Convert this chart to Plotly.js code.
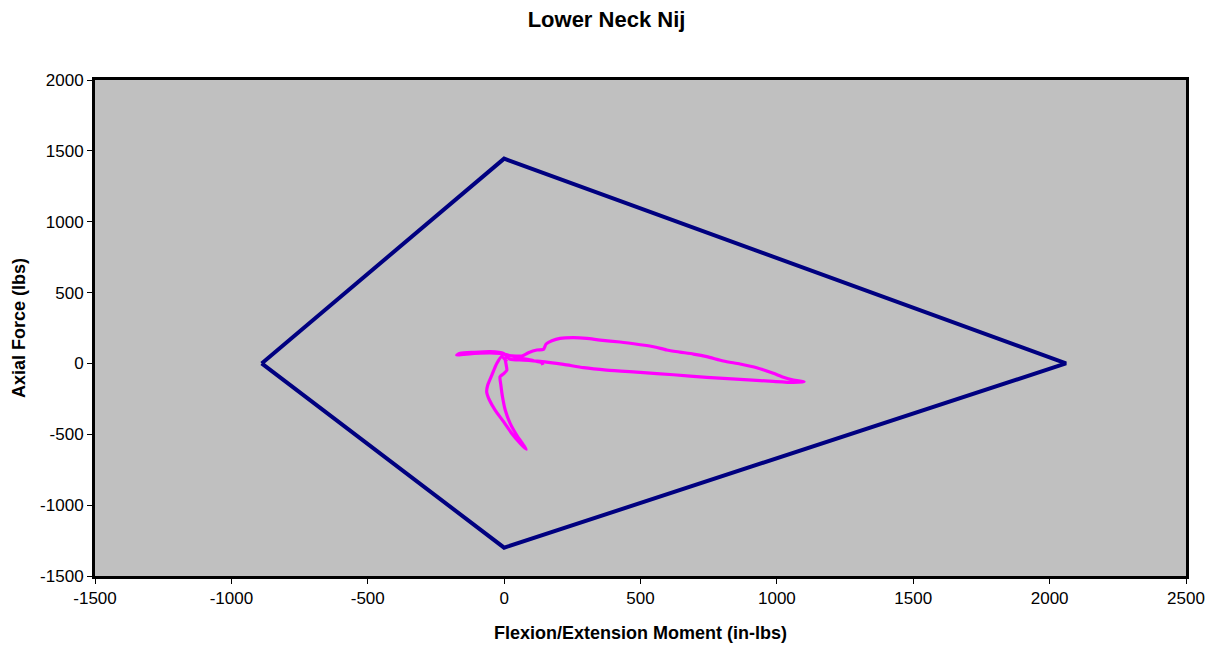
<!DOCTYPE html>
<html><head><meta charset="utf-8">
<script src="https://cdn.plot.ly/plotly-3.0.1.min.js"></script>
<style>html,body{margin:0;padding:0;background:#fff}#chart{width:1213px;height:646px}</style>
</head><body><div id="chart"></div>
<script>
// Nij critical envelope (moment in-lbs, axial force lbs)
const envelopeMoment = [-889, 0, 2060, 0, -889];
const envelopeForce  = [0, 1445, 0, -1300, 0];

// Measured lower neck trajectory
const trajMoment = [10, -9, -27, -45, -60, -64, -54, -33, -2, 28, 59, 81,
  71, 46, 22, 4, -6, -12, -15, 0, 10, 7, 4, 22,
  65, 89, 120, 144, 154, 175, 205, 254, 303, 352, 425, 499, 548, 596, 645, 694, 743, 804, 865, 926, 987, 1024, 1061, 1100,
  1061, 987, 865, 743, 621, 499, 376, 291, 218, 132, 71, 22,
  -2, -51, -112, -161, -174, -149, -88, -15, 46, 108, 138, 142];
const trajForce = [12, 48, 0, -82, -152, -200, -258, -329, -411, -494, -564, -606,
  -576, -505, -423, -329, -235, -152, -94, -70, -47, -4, 36, 52,
  52, 76, 95, 99, 137, 160, 177, 182, 177, 165, 151, 132, 118, 95, 80, 66, 48, 17, -4, -30, -70, -98, -117, -129,
  -134, -127, -112, -98, -80, -63, -47, -30, -7, 15, 24, 29,
  71, 83, 78, 71, 59, 64, 73, 71, 43, 19, 5, -11];

const xTicks = [-1500, -1000, -500, 0, 500, 1000, 1500, 2000, 2500];
const yTicks = [-1500, -1000, -500, 0, 500, 1000, 1500, 2000];

const traces = [
  {x: envelopeMoment, y: envelopeForce, mode: 'lines', line: {color: '#000080', width: 4}, hoverinfo: 'skip'},
  {x: trajMoment, y: trajForce, mode: 'lines', line: {color: '#FF00FF', width: 3.2, shape: 'spline', smoothing: 0.6}, hoverinfo: 'skip'}
];

const font = 'Arial, "Liberation Sans", sans-serif';
const layout = {
  width: 1213, height: 646,
  paper_bgcolor: '#ffffff', plot_bgcolor: '#c0c0c0',
  showlegend: false,
  margin: {l: 95, r: 27, t: 80, b: 70},
  title: {text: '<b>Lower Neck Nij</b>', font: {family: font, size: 22, color: '#000'}, x: 0.5, xanchor: 'center', y: 0.97, yanchor: 'middle'},
  xaxis: {
    range: [-1500, 2500], tickvals: xTicks, ticktext: xTicks.map(String),
    showgrid: false, zeroline: false, showline: true, linecolor: '#000', linewidth: 3, mirror: true,
    ticks: 'outside', ticklen: 5, tickcolor: '#000', tickwidth: 1,
    tickfont: {family: font, size: 17, color: '#000'},
    title: {text: '<b>Flexion/Extension Moment (in-lbs)</b>', font: {family: font, size: 18, color: '#000'}, standoff: 19}
  },
  yaxis: {
    range: [-1500, 2000], tickvals: yTicks, ticktext: yTicks.map(String),
    showgrid: false, zeroline: false, showline: true, linecolor: '#000', linewidth: 3, mirror: true,
    ticks: 'outside', ticklen: 5, tickcolor: '#000', tickwidth: 1,
    tickfont: {family: font, size: 17, color: '#000'},
    title: {text: '<b>Axial Force (lbs)</b>', font: {family: font, size: 18, color: '#000'}, standoff: 10}
  }
};
Plotly.newPlot('chart', traces, layout, {staticPlot: true, displayModeBar: false});
</script></body></html>
